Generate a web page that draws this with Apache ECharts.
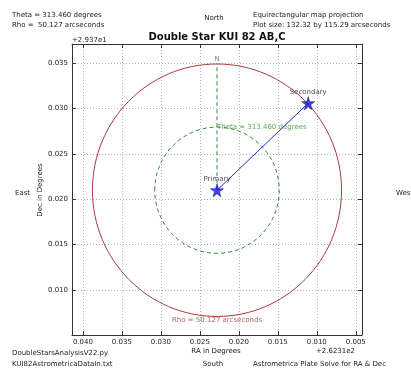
<!DOCTYPE html>
<html><head><meta charset="utf-8">
<script src="https://cdn.jsdelivr.net/npm/echarts@6/dist/echarts.min.js"></script>
<style>html,body{margin:0;padding:0;background:#fff}#c{width:411px;height:371px}</style>
</head><body><div id="c"></div>
<script>
// ---- data ----
const primary = [0.0228, 0.0210];      // [RA offset deg, Dec offset deg]
const secondary = [0.0111, 0.0306];
const rhoArcsec = 50.127;
const thetaDeg = 313.460;
const decBaseDeg = 29.37;
const raRange = [0.0042, 0.0414];
const decRange = [0.00503, 0.03713];
const xTickLabels = ['0.040', '0.035', '0.030', '0.025', '0.020', '0.015', '0.010', '0.005'];
const yTickLabels = ['0.010', '0.015', '0.020', '0.025', '0.030', '0.035'];
const raOffsetLabel = '+2.6231e2';
const decOffsetLabel = '+2.937e1';

const rhoDeg = rhoArcsec / 3600;
const cosDec = Math.cos(decBaseDeg * Math.PI / 180);
const FONT = 'DejaVu Sans';
const TXT = '#222';
const GREEN = '#3a8a3a';
const BROWN = '#a83c3c';

const circles = [
  [primary[0], primary[1], rhoDeg, 0],
  [primary[0], primary[1], rhoDeg / 2, 1]
];

const chart = echarts.init(document.getElementById('c'), null, {renderer: 'canvas'});

function fmt(list) {
  return v => { const s = Number(v).toFixed(3); return list.indexOf(s) >= 0 ? s : ''; };
}
const gridLine = {show: true, lineStyle: {color: '#b8b8b8', width: 1, type: [1, 2]}};
const axLine = {show: true, lineStyle: {color: '#333', width: 1}};
const tick = {show: true, inside: true, length: 4, lineStyle: {color: '#333', width: 1}};

function txt(x, y, text, opts) {
  return {
    type: 'text', x: x, y: y, silent: true,
    style: Object.assign({text: text, fontFamily: FONT, fontSize: 7, fill: TXT,
      textAlign: 'left', textVerticalAlign: 'middle'}, opts || {})
  };
}

chart.setOption({
  animation: false,
  backgroundColor: '#fff',
  grid: {left: 72, right: 49, top: 44, bottom: 36, containLabel: false},
  xAxis: [
    {type: 'value', inverse: true, min: raRange[0], max: raRange[1], splitNumber: 8,
     axisLine: axLine, axisTick: tick, splitLine: gridLine,
     axisLabel: {formatter: fmt(xTickLabels), fontFamily: FONT, fontSize: 7, color: TXT, margin: 4,
                 showMinLabel: false, showMaxLabel: false}},
    {type: 'value', inverse: true, position: 'top', min: raRange[0], max: raRange[1], splitNumber: 8,
     axisLine: axLine, axisTick: tick, splitLine: {show: false}, axisLabel: {show: false}}
  ],
  yAxis: [
    {type: 'value', min: decRange[0], max: decRange[1], splitNumber: 7,
     axisLine: axLine, axisTick: tick, splitLine: gridLine,
     axisLabel: {formatter: fmt(yTickLabels), fontFamily: FONT, fontSize: 7, color: TXT, margin: 4,
                 showMinLabel: false, showMaxLabel: false}},
    {type: 'value', position: 'right', min: decRange[0], max: decRange[1], splitNumber: 7,
     axisLine: axLine, axisTick: tick, splitLine: {show: false}, axisLabel: {show: false}}
  ],
  series: [
    {
      type: 'custom', clip: false, silent: true, z: 2,
      data: circles,
      renderItem: function (params, api) {
        const ra = api.value(0), dec = api.value(1), r = api.value(2);
        const dashed = api.value(3) === 1;
        const c = api.coord([ra, dec]);
        const ex = api.coord([ra + r / cosDec, dec]);
        const ey = api.coord([ra, dec + r]);
        return {
          type: 'ellipse',
          shape: {cx: c[0], cy: c[1], rx: Math.abs(ex[0] - c[0]), ry: Math.abs(c[1] - ey[1])},
          style: {fill: 'none', stroke: dashed ? GREEN : BROWN, lineWidth: 1,
                  lineDash: dashed ? [4, 3] : null}
        };
      }
    },
    {
      type: 'line', silent: true, z: 3, symbol: 'none',
      data: [primary, [primary[0], primary[1] + rhoDeg]],
      lineStyle: {color: GREEN, width: 1, type: [4, 3]}
    },
    {
      type: 'line', silent: true, z: 3, symbol: 'none',
      data: [primary, secondary],
      lineStyle: {color: '#2a2ad0', width: 1}
    },
    {
      type: 'scatter', silent: true, z: 5,
      symbol: 'path://M50,0 L61,35 L98,35 L68,57 L79,91 L50,70 L21,91 L32,57 L2,35 L39,35 Z',
      symbolSize: 13,
      itemStyle: {color: '#1414e6', borderColor: '#00008b', borderWidth: 0.6},
      label: {show: true, position: 'top', distance: 1, formatter: '{b}',
              fontFamily: FONT, fontSize: 7, color: TXT},
      data: [{name: 'Primary', value: primary}, {name: 'Secondary', value: secondary}]
    },
    {
      type: 'scatter', silent: true, z: 6, symbolSize: 0,
      data: [
        {name: 'N', value: [primary[0], primary[1] + rhoDeg],
         label: {position: 'top', distance: 1, color: GREEN}},
        {name: 'Theta = ' + thetaDeg.toFixed(3) + ' degrees', value: [primary[0], primary[1] + rhoDeg / 2],
         label: {position: 'right', distance: 0, color: GREEN}},
        {name: 'Rho = ' + rhoArcsec.toFixed(3) + ' arcseconds', value: [primary[0], primary[1] - rhoDeg],
         label: {position: 'bottom', distance: 0, color: BROWN}}
      ],
      label: {show: true, formatter: '{b}', fontFamily: FONT, fontSize: 7}
    }
  ],
  graphic: [
    txt(12, 15, 'Theta = ' + thetaDeg.toFixed(3) + ' degrees'),
    txt(12, 25, 'Rho =  ' + rhoArcsec.toFixed(3) + ' arcseconds'),
    txt(214, 18, 'North', {textAlign: 'center'}),
    txt(253, 15, 'Equirectangular map projection'),
    txt(253, 25, 'Plot size: 132.32 by 115.29 arcseconds'),
    txt(217, 37.5, 'Double Star KUI 82 AB,C', {textAlign: 'center', fontSize: 10, fontWeight: 'bold', fill: '#111'}),
    txt(72, 40, decOffsetLabel),
    txt(15, 193, 'East'),
    txt(396, 193, 'West'),
    {type: 'text', x: 40, y: 190, rotation: Math.PI / 2, silent: true,
     style: {text: 'Dec in Degrees', fontFamily: FONT, fontSize: 7, fill: TXT, textAlign: 'center', textVerticalAlign: 'middle'}},
    txt(216, 351.5, 'RA in Degrees', {textAlign: 'center'}),
    txt(355, 351.5, raOffsetLabel, {textAlign: 'right'}),
    txt(12, 353, 'DoubleStarsAnalysisV22.py'),
    txt(12, 364, 'KUI82AstrometricaDataIn.txt'),
    txt(213, 364, 'South', {textAlign: 'center'}),
    txt(253, 364, 'Astrometrica Plate Solve for RA & Dec')
  ]
});
</script>
</body></html>
